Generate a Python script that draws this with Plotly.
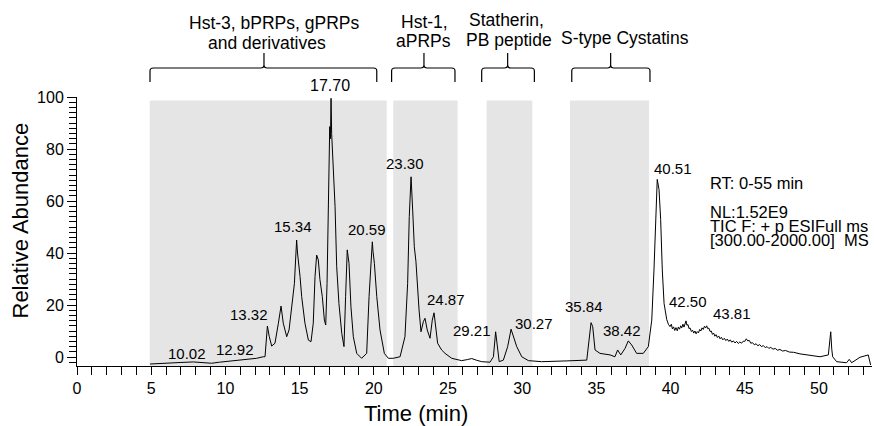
import plotly.graph_objects as go

# ---------------- data ----------------
t_early = [4.92, 5.5, 6.27, 7.0, 7.84, 8.5, 9.07, 9.6, 10.09, 10.7, 11.2, 11.6, 12.1, 12.55]
a_early = [-2.7, -2.6, -2.4, -2.1, -1.9, -2.2, -2.4, -2.0, -1.7, -1.4, -0.9, -0.6, -0.5, 0.1]

t_prp = [12.67, 12.83, 12.95, 13.12, 13.34, 13.57, 13.75, 13.9, 14.13, 14.29, 14.47, 14.56, 14.65,
         14.73, 14.8, 14.86, 14.92, 15.03, 15.14, 15.36, 15.59, 15.77, 15.92, 16.04, 16.15, 16.26,
         16.37, 16.53, 16.67, 16.76, 16.85, 16.94, 17.03, 17.08, 17.12, 17.16, 17.2, 17.3, 17.39,
         17.5, 17.65, 17.84, 17.99, 18.1, 18.21, 18.33, 18.46, 18.62, 18.85, 19.18, 19.52, 19.68,
         19.79, 19.9, 19.95, 20.04, 20.2, 20.42, 20.71, 20.98]
a_prp = [0.1, 11.9, 8.0, 4.2, 5.3, 13.0, 19.6, 13.0, 7.8, 10.4, 20.6, 24.0, 28.3,
         37.3, 45.0, 40.0, 37.3, 30.9, 23.2, 13.0, 6.5, 5.9, 13.0, 30.9, 39.2, 37.3,
         29.8, 23.2, 14.2, 12.3, 28.3, 60.4, 88.6, 84.0, 99.5, 86.0, 80.9, 73.2, 57.8,
         34.7, 20.6, 9.1, 4.0, 23.2, 41.2, 36.0, 19.3, 7.8, 1.4, -0.5, 1.4, 23.2,
         36.0, 44.3, 40.5, 36.0, 23.2, 10.4, 1.4, -0.5]

t_mid = [21.31, 21.77, 22.1, 22.28, 22.39, 22.51, 22.62, 22.73, 22.84, 22.93, 23.05, 23.18, 23.34,
         23.45, 23.6, 23.79, 23.94, 24.06, 24.17, 24.3, 24.57, 24.8, 25.25, 25.92, 26.3, 26.6,
         26.9, 27.27, 27.83, 28.06, 28.21, 28.32, 28.45, 28.73, 29.02, 29.25, 29.4, 29.63, 29.97,
         30.42, 31.31, 32.21]
a_mid = [-0.5, 0.1, 7.8, 28.3, 54.0, 69.3, 56.5, 42.4, 36.7, 28.3, 18.1, 9.7, 13.6,
         14.9, 10.4, 7.2, 14.2, 17.0, 11.7, 5.3, 2.7, 1.4, -0.5, -1.4, -1.0, -0.6,
         -1.2, -1.8, -2.0, 0.1, 9.7, 4.0, -1.8, -1.2, 4.0, 10.7, 7.8, 4.0, 0.1,
         -1.4, -1.8, -1.5]

t_cyst = [33.0, 34.35, 34.53, 34.64, 34.75, 34.91, 35.24, 35.92, 36.25, 36.43, 36.64, 36.93, 37.15,
          37.38, 37.71, 38.16, 38.5]
a_cyst = [-1.5, -1.2, 6.5, 13.2, 11.7, 2.7, 1.4, 0.8, 0.1, 2.7, 0.8, 3.3, 6.2,
          4.6, 1.4, 1.4, 4.0]

t_p40 = [38.73, 38.88, 39.0, 39.1, 39.22, 39.33, 39.44, 39.56]
a_p40 = [14.2, 33.5, 56.5, 68.3, 64.4, 52.9, 33.5, 20.6]

t_tail = [39.74, 39.85, 39.96, 40.05, 40.12, 40.2, 40.28, 40.36, 40.45, 40.52,
          40.6, 40.68, 40.75, 40.83, 40.9, 40.97, 41.04, 41.1, 41.17, 41.24,
          41.31, 41.4, 41.48, 41.56, 41.64, 41.72, 41.8, 41.88, 41.96, 42.04,
          42.12, 42.2, 42.28, 42.36, 42.43, 42.5, 42.58, 42.66, 42.74, 42.82,
          42.9, 42.98, 43.06, 43.15, 43.24, 43.33, 43.42, 43.52, 43.62, 43.72,
          43.82, 43.92, 44.02, 44.12, 44.23, 44.34, 44.45, 44.56, 44.67, 44.78,
          44.9, 45.0, 45.1, 45.2, 45.3, 45.4, 45.52, 45.64, 45.76, 45.88,
          46.0, 46.12, 46.25, 46.38, 46.5, 46.62, 46.75, 46.9, 47.05, 47.2,
          47.37, 47.55, 47.75, 48.0, 48.3, 48.72, 49.4, 50.07]
a_tail = [14.4, 12.6, 11.7, 12.6, 10.8, 11.6, 10.2, 11.3, 10.1, 11.5,
          10.7, 12.0, 11.2, 12.6, 11.5, 13.0, 13.9, 12.2, 12.5, 10.9,
          11.2, 9.8, 10.3, 9.2, 10.0, 8.9, 9.8, 9.3, 10.6, 10.0,
          11.2, 10.6, 11.8, 11.2, 12.0, 10.9, 11.1, 9.8, 10.0, 8.7,
          9.2, 8.0, 8.6, 7.5, 8.1, 7.0, 7.6, 6.6, 7.2, 6.3,
          6.9, 6.0, 6.6, 5.7, 6.2, 5.4, 6.0, 5.2, 5.8, 5.3,
          6.1, 6.0, 7.0, 6.2, 6.4, 5.3, 5.5, 4.7, 5.1, 4.3,
          4.8, 4.0, 4.4, 3.6, 4.0, 3.3, 3.7, 3.0, 3.3, 2.6,
          2.9, 2.3, 2.5, 1.9, 1.8, 1.2, 0.6, 0.1]

t_end = [50.63, 50.72, 50.79, 50.86, 50.92, 51.19, 51.86, 52.04, 52.2, 52.76, 53.32, 53.48]
a_end = [0.8, 5.0, 9.7, 3.0, 0.1, -1.8, -2.2, -0.9, -2.2, -0.1, 0.8, -3.1]

# shaded windows (min)
band_start = [4.9, 21.31, 27.6, 33.22]
band_end = [20.87, 25.65, 30.68, 38.54]

# group brackets (min): left, centre, right
bracket_left = [4.92, 21.2, 27.27, 33.34]
bracket_mid = [12.6, 23.38, 29.02, 35.96]
bracket_right = [20.2, 25.47, 30.82, 38.61]

# peak labels: text, time position, abundance position
peak_text = ["10.02", "12.92", "13.32", "15.34", "20.59", "23.30", "24.87", "29.21",
             "30.27", "35.84", "38.42", "40.51", "42.50", "43.81"]
peak_x = [7.39, 10.65, 11.59, 14.53, 19.52, 22.1, 24.85, 26.6,
          30.8, 34.16, 36.73, 40.18, 41.19, 44.12]
peak_y = [1.2, 2.7, 16.2, 50.1, 49.1, 74.5, 22.2, 10.1,
          13.0, 19.3, 10.1, 72.6, 21.3, 16.8]
top_peak_text = "17.70"
top_peak_x = 17.05

x_ticks = list(range(0, 55, 5))
y_ticks = list(range(0, 101, 20))

time = t_early + t_prp + t_mid + t_cyst + t_p40 + t_tail + t_end
abundance = a_early + a_prp + a_mid + a_cyst + a_p40 + a_tail + a_end
assert len(time) == len(abundance)

# ---------------- layout helpers ----------------
W, H = 874, 426
PLOT_L, PLOT_R, PLOT_T, PLOT_B = 77, 872, 97, 366   # plot area in window pixels
L, R, T, B = PLOT_L, W - PLOT_R, PLOT_T, H - PLOT_B
PW, PH = PLOT_R - PLOT_L, PLOT_B - PLOT_T
FONT = "Liberation Sans, Arial, sans-serif"


def px_x(p):
    return (p - PLOT_L) / PW


def px_y(p):
    return (PLOT_B - p) / PH


fig = go.Figure()
fig.add_trace(go.Scatter(x=time, y=abundance, mode="lines",
                         line=dict(color="black", width=1), hoverinfo="skip"))

shapes = []
for s, e in zip(band_start, band_end):
    shapes.append(dict(type="rect", xref="x", yref="y", x0=s, x1=e, y0=-3.46, y1=98.7,
                       fillcolor="#e5e5e5", line=dict(width=0), layer="below"))

yh, yb, yt = px_y(68), px_y(82), px_y(53)
d = 3 / PH
ec = 0.22
for x0, xc, x1 in zip(bracket_left, bracket_mid, bracket_right):
    path = (f"M {x0},{yb} L {x0},{yh - d} Q {x0},{yh} {x0 + ec},{yh} "
            f"L {xc - ec},{yh} Q {xc},{yh} {xc},{yh + d} L {xc},{yt} "
            f"M {xc},{yh + d} Q {xc},{yh} {xc + ec},{yh} "
            f"L {x1 - ec},{yh} Q {x1},{yh} {x1},{yh - d} L {x1},{yb}")
    shapes.append(dict(type="path", xref="x", yref="paper", path=path,
                       line=dict(color="black", width=1.2)))

ann = []
for txt, x, y in zip(peak_text, peak_x, peak_y):
    ann.append(dict(x=x, y=y, xref="x", yref="y", text=txt, showarrow=False,
                    font=dict(family=FONT, size=15, color="black"),
                    xanchor="center", yanchor="middle"))
ann.append(dict(x=top_peak_x, y=px_y(85), xref="x", yref="paper", text=top_peak_text,
                showarrow=False, font=dict(family=FONT, size=16, color="black"),
                xanchor="center", yanchor="middle"))

group_lines = [("Hst-3, bPRPs, gPRPs", 274, 23), ("and derivatives", 266.5, 43),
               ("Hst-1,", 424, 22), ("aPRPs", 423.3, 41),
               ("Statherin,", 506, 20), ("PB peptide", 509, 40),
               ("S-type Cystatins", 625, 38)]
for txt, x, y in group_lines:
    ann.append(dict(x=px_x(x), y=px_y(y), xref="paper", yref="paper", text=txt,
                    showarrow=False, font=dict(family=FONT, size=17.5, color="black"),
                    xanchor="center", yanchor="middle"))

info_lines = [("RT: 0-55 min", 183), ("NL:1.52E9", 212),
              ("TIC F: + p ESIFull ms", 225.7), ("[300.00-2000.00]\u00a0 MS", 240)]
for txt, y in info_lines:
    ann.append(dict(x=px_x(708), y=px_y(y), xref="paper", yref="paper", text=txt,
                    showarrow=False, font=dict(family=FONT, size=16.5, color="black"),
                    xanchor="left", yanchor="middle"))

ann.append(dict(x=px_x(19.5), y=px_y(221), xref="paper", yref="paper",
                text="Relative Abundance", textangle=-90, showarrow=False,
                font=dict(family=FONT, size=22, color="black"),
                xanchor="center", yanchor="middle"))
ann.append(dict(x=px_x(416), y=px_y(413.5), xref="paper", yref="paper",
                text="Time (min)", showarrow=False,
                font=dict(family=FONT, size=22, color="black"),
                xanchor="center", yanchor="middle"))

fig.update_layout(
    width=W, height=H, margin=dict(l=L, r=R, t=T, b=B),
    paper_bgcolor="white", plot_bgcolor="white", showlegend=False,
    shapes=shapes, annotations=ann,
    font=dict(family=FONT, size=16, color="black"),
)
fig.update_xaxes(range=[0, PW / 14.84], tickmode="array", tickvals=x_ticks,
                 ticks="outside", ticklen=8, tickwidth=1, tickcolor="black",
                 minor=dict(dtick=1, ticks="outside", ticklen=8, tickcolor="black", tickwidth=1),
                 showline=True, linecolor="black", linewidth=1, showgrid=False, zeroline=False,
                 tickfont=dict(family=FONT, size=16, color="black"))
fig.update_yaxes(range=[-3.46, 100.0], tickmode="array", tickvals=y_ticks,
                 ticks="outside", ticklen=9, tickwidth=1, tickcolor="black",
                 minor=dict(dtick=2, ticks="outside", ticklen=7, tickcolor="black", tickwidth=1),
                 showline=True, linecolor="black", linewidth=1, showgrid=False, zeroline=False,
                 tickfont=dict(family=FONT, size=16, color="black"))

# remove the default page margin so the 874x426 figure fills the window exactly
fig.write_html("out.html", config={"displayModeBar": False},
               post_script="document.body.style.margin='0'; document.body.style.overflow='hidden';")
